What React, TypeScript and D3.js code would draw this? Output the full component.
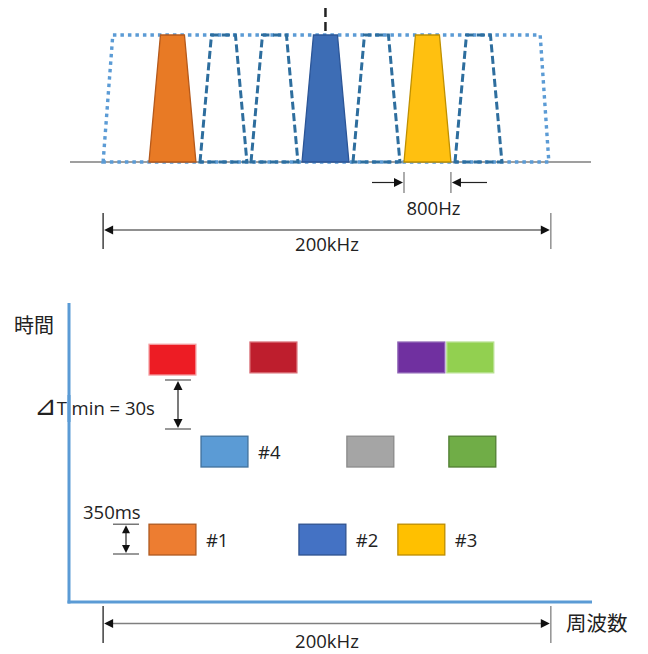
import React from "react";
import * as d3 from "d3";

const W = 648;
const H = 654;

// ---- Top spectrum (slot units) ----
const channelSlots = [0, 1, 2, 3, 4, 5, 6];
const channelKinds = ["orange", "empty", "empty", "blue", "empty", "yellow", "empty"];
const bandBottom = [-0.9, 7.84];
const bandTop = [-0.71, 7.67];

// ---- Bottom time/frequency grid ----
const burstSlots = [0, 2.94, 4.88, 1.02, 3.88, 5.88, 0, 1.98, 4.88, 5.84];
const burstRows = [0, 0, 0, 1, 1, 1, 2.045, 2.07, 2.07, 2.07];
const burstColors = ["#ED7D31", "#4472C4", "#FFC000", "#5B9BD5", "#A5A5A5", "#70AD47", "#ED1C24", "#BE1E2D", "#7030A0", "#92D050"];
const burstStrokes = ["#AE5A21", "#2F528F", "#BC8C00", "#41719C", "#8A8A8A", "#507E32", "#F4A0A4", "#D86A73", "#8E63B5", "#B7E08F"];
const burstLabels = ["#1", "#2", "#3", "#4", "", "", "", "", "", ""];

const spanLabel = "200kHz";
const gapLabel = "800Hz";
const tminSymbol = "⊿";
const tminLabel = "T min = 30s";
const durLabel = "350ms";
const yAxisLabel = "時間";
const xAxisLabel = "周波数";

const LATIN = "'Open Sans', 'Noto Sans', sans-serif";
const CJK = "'Noto Sans CJK JP', sans-serif";
const FS = 18.5;

const fillOf: Record<string, string> = { orange: "#E87A25", blue: "#3D6DB5", yellow: "#FFC010" };
const strokeOf: Record<string, string> = { orange: "#B5591B", blue: "#2B5597", yellow: "#BF9000" };

function head(x: number, y: number, dir: "l" | "r" | "u" | "d", len = 9, hw = 4.5) {
  let pts: [number, number][];
  if (dir === "r") pts = [[x, y], [x - len, y - hw], [x - len, y + hw]];
  else if (dir === "l") pts = [[x, y], [x + len, y - hw], [x + len, y + hw]];
  else if (dir === "u") pts = [[x, y], [x - hw, y + len], [x + hw, y + len]];
  else pts = [[x, y], [x - hw, y - len], [x + hw, y - len]];
  return pts.map((p) => p.join(",")).join(" ");
}

export default function App() {
  const x = d3.scaleLinear().domain([0, 7]).range([149, 506]);
  const yTop = d3.scaleLinear().domain([0, 1]).range([162, 35]);
  const yRow = d3.scaleLinear().domain([0, 1]).range([555, 467]);

  const BW = 0.92; // bottom width (slot units)
  const TW = 0.47; // top width
  const off = (BW - TW) / 2;
  const RH = 0.35; // burst height in row units

  const line = d3.line<[number, number]>().x((d) => d[0]).y((d) => d[1]);

  const trap = (s: number) =>
    line([
      [x(s), yTop(0)],
      [x(s + off), yTop(1)],
      [x(s + off + TW), yTop(1)],
      [x(s + BW), yTop(0)],
    ]) + "Z";

  const outer =
    line([
      [x(bandBottom[0]), yTop(0)],
      [x(bandTop[0]), yTop(1)],
      [x(bandTop[1]), yTop(1)],
      [x(bandBottom[1]), yTop(0)],
    ]) + "Z";

  const spanL = x(bandBottom[0]);
  const spanR = x(bandBottom[1]) + 2;
  const gapL = x(5);
  const gapR = x(5 + BW);
  const centerX = x(3 + BW / 2);

  const axisX = 69;
  const axisY = 602;

  return (
    <svg width={W} height={H} viewBox={`0 0 ${W} ${H}`} style={{ display: "block", position: "absolute", left: 0, top: 0 }}>
      <rect width={W} height={H} fill="#fff" />
      {/* baseline */}
      <line x1={70} x2={591} y1={yTop(0)} y2={yTop(0)} stroke="#7F7F7F" strokeWidth={1.5} />
      {/* outer band dotted */}
      <path d={outer} fill="none" stroke="#5B9BD5" strokeWidth={3.4} strokeDasharray="3.5 4" />
      {/* dashed channels */}
      {channelSlots.map((s, i) =>
        channelKinds[i] === "empty" ? (
          <path key={"e" + i} d={trap(s)} fill="none" stroke="#2E6E9E" strokeWidth={3} strokeDasharray="8 3.5" />
        ) : null
      )}
      {channelSlots.map((s, i) =>
        channelKinds[i] !== "empty" ? (
          <path key={"f" + i} d={trap(s)} fill={fillOf[channelKinds[i]]} stroke={strokeOf[channelKinds[i]]} strokeWidth={1.3} />
        ) : null
      )}
      {/* center dashed line */}
      <line x1={centerX} x2={centerX} y1={8} y2={yTop(1)} stroke="#222" strokeWidth={2.5} strokeDasharray="9 5" />

      {/* 800Hz */}
      <line x1={gapL} x2={gapL} y1={172} y2={193} stroke="#808080" strokeWidth={1.3} />
      <line x1={gapR} x2={gapR} y1={172} y2={193} stroke="#808080" strokeWidth={1.3} />
      <line x1={372} x2={gapL - 6} y1={182.5} y2={182.5} stroke="#222" strokeWidth={1.2} />
      <polygon points={head(gapL - 1, 182.5, "r")} fill="#111" />
      <line x1={487} x2={gapR + 6} y1={182.5} y2={182.5} stroke="#222" strokeWidth={1.2} />
      <polygon points={head(gapR + 1, 182.5, "l")} fill="#111" />
      <text x={(gapL + gapR) / 2 + 6} y={215} textAnchor="middle" fontFamily={LATIN} fontSize={FS} fill="#222">{gapLabel}</text>

      {/* top 200kHz */}
      <line x1={spanL} x2={spanL} y1={213} y2={249} stroke="#222" strokeWidth={1.3} />
      <line x1={spanR} x2={spanR} y1={213} y2={249} stroke="#808080" strokeWidth={1.3} />
      <line x1={spanL + 4} x2={spanR - 4} y1={230} y2={230} stroke="#222" strokeWidth={1.2} />
      <polygon points={head(spanL + 1, 230, "l")} fill="#111" />
      <polygon points={head(spanR - 1, 230, "r")} fill="#111" />
      <text x={(spanL + spanR) / 2} y={251} textAnchor="middle" fontFamily={LATIN} fontSize={FS} fill="#222">{spanLabel}</text>

      {/* bottom axes */}
      <line x1={axisX} x2={axisX} y1={303} y2={axisY + 1.5} stroke="#5B9BD5" strokeWidth={3} />
      <line x1={axisX - 1.5} x2={592} y1={axisY} y2={axisY} stroke="#5B9BD5" strokeWidth={3} />
      <text x={14} y={333} fontFamily={CJK} fontSize={20} fill="#222">{yAxisLabel}</text>
      <text x={566} y={631} fontFamily={CJK} fontSize={20.5} fill="#222">{xAxisLabel}</text>

      {/* bursts */}
      {burstSlots.map((s, i) => (
        <g key={"b" + i}>
          <rect
            x={x(s)}
            y={yRow(burstRows[i] + RH)}
            width={x(s + BW) - x(s)}
            height={yRow(burstRows[i]) - yRow(burstRows[i] + RH)}
            fill={burstColors[i]}
            stroke={burstStrokes[i]}
            strokeWidth={1.3}
          />
          {burstLabels[i] ? (
            <text x={x(s + BW) + 10} y={yRow(burstRows[i] + RH / 2) + 7} fontFamily={LATIN} fontSize={FS} fill="#222">
              {burstLabels[i]}
            </text>
          ) : null}
        </g>
      ))}

      {/* ⊿T min = 30s */}
      <text x={34} y={415} fontFamily={LATIN} fontSize={FS} fill="#222">
        <tspan fontFamily="'DejaVu Sans', sans-serif" fontSize={27}>{tminSymbol}</tspan>
        <tspan>{tminLabel}</tspan>
      </text>
      <line x1={axisX} x2={axisX} y1={395} y2={422} stroke="#5B9BD5" strokeWidth={3} />
      <line x1={165} x2={191} y1={380} y2={380} stroke="#555" strokeWidth={1.2} />
      <line x1={165} x2={191} y1={429} y2={429} stroke="#555" strokeWidth={1.2} />
      <line x1={178} x2={178} y1={386} y2={423} stroke="#222" strokeWidth={1.2} />
      <polygon points={head(178, 381, "u")} fill="#111" />
      <polygon points={head(178, 428, "d")} fill="#111" />

      {/* 350ms */}
      <text x={83} y={519} fontFamily={LATIN} fontSize={FS} fill="#222">{durLabel}</text>
      <line x1={113} x2={139} y1={yRow(RH)} y2={yRow(RH)} stroke="#555" strokeWidth={1.2} />
      <line x1={113} x2={139} y1={yRow(0) - 1} y2={yRow(0) - 1} stroke="#555" strokeWidth={1.2} />
      <line x1={126} x2={126} y1={yRow(RH) + 5} y2={yRow(0) - 6} stroke="#222" strokeWidth={1.2} />
      <polygon points={head(126, yRow(RH) + 1, "u", 8, 4)} fill="#111" />
      <polygon points={head(126, yRow(0) - 2, "d", 8, 4)} fill="#111" />

      {/* bottom 200kHz */}
      <line x1={spanL} x2={spanL} y1={606} y2={643} stroke="#222" strokeWidth={1.3} />
      <line x1={spanR} x2={spanR} y1={606} y2={643} stroke="#808080" strokeWidth={1.3} />
      <line x1={spanL + 4} x2={spanR - 4} y1={623.5} y2={623.5} stroke="#7F7F7F" strokeWidth={1.5} />
      <polygon points={head(spanL + 1, 623.5, "l")} fill="#111" />
      <polygon points={head(spanR - 1, 623.5, "r")} fill="#111" />
      <text x={(spanL + spanR) / 2} y={648} textAnchor="middle" fontFamily={LATIN} fontSize={FS} fill="#222">{spanLabel}</text>
    </svg>
  );
}
